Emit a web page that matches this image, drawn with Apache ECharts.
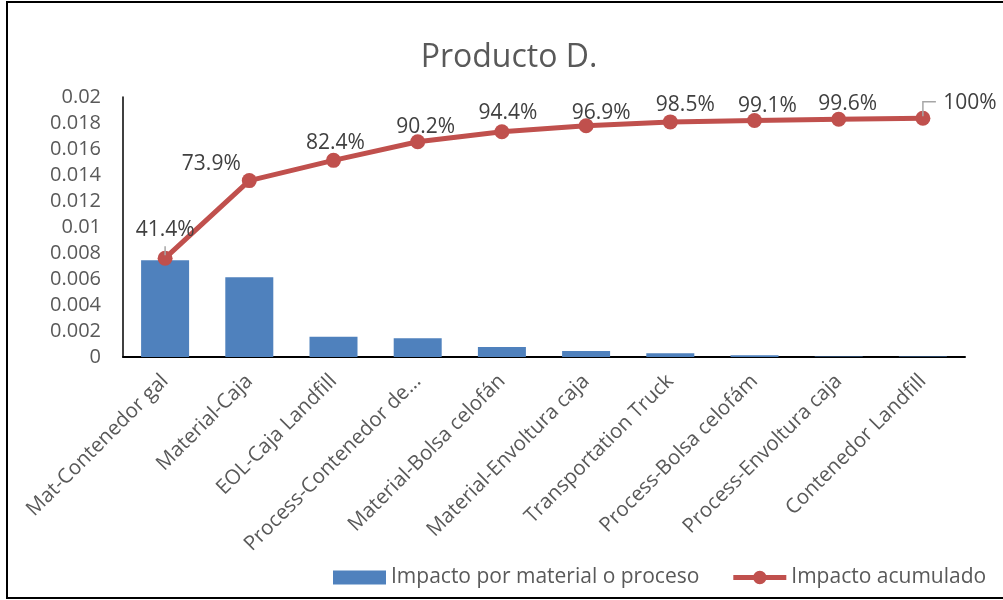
<!DOCTYPE html>
<html>
<head>
<meta charset="utf-8">
<script src="https://cdn.jsdelivr.net/npm/echarts@6/dist/echarts.min.js"></script>
<style>
  html, body { margin: 0; padding: 0; background: #fff; overflow: hidden; }
  #chart { width: 1003px; height: 600px; position: absolute; left: 0; top: 0; }
  #frame {
    position: absolute; left: 6px; top: 1px; width: 1100px; height: 594px;
    border: 2px solid #000; pointer-events: none;
  }
</style>
</head>
<body>
<div id="chart"></div>
<div id="frame"></div>
<script>
// Pareto of impact contributions, Producto D.
const categories = [
  'Mat-Contenedor gal',
  'Material-Caja',
  'EOL-Caja Landfill',
  'Process-Contenedor de...',
  'Material-Bolsa celofán',
  'Material-Envoltura caja',
  'Transportation Truck',
  'Process-Bolsa celofám',
  'Process-Envoltura caja',
  'Contenedor Landfill'
];
const impactValues = [0.00745, 0.00613, 0.00156, 0.00144, 0.00077, 0.00046, 0.00028, 0.00013, 0.00004, 0.00003];
const cumulativePct = [41.4, 73.9, 82.4, 90.2, 94.4, 96.9, 98.5, 99.1, 99.6, 100];
const totalImpact = 0.01836;
const yMin = 0;
const yMax = 0.02;
const yStep = 0.002;
const seriesNames = ['Impacto por material o proceso', 'Impacto acumulado'];
const titleText = 'Producto D.';

// cumulative impact on the same value axis as the bars
const cumulativeValues = cumulativePct.map(p => p / 100 * totalImpact);

// label placement around each point (dx, dy from the point centre)
const labelShift = [[0, -28], [-38, -17], [2, -17], [8, -15], [6, -19], [15, -13], [15, -17], [13, -14], [9, -15], [47, -15]];

const FONT = '"Open Sans", "Noto Sans", sans-serif';
const barColor = '#4F81BD';
const lineColor = '#C0504D';

// legend glyph for the line series: thick stroke with a dot in the middle
const lineLegendIcon = 'path://M0,4.5 L55,4.5 L55,9.5 L0,9.5 Z M20.5,7 A7,7 0 1,1 34.5,7 A7,7 0 1,1 20.5,7 Z';

// centre the title over x = 509
const titleSize = 32;
const measure = document.createElement('canvas').getContext('2d');
measure.font = titleSize + 'px "Open Sans"';
const titleWidth = measure.measureText(titleText).width;

const chart = echarts.init(document.getElementById('chart'), null, { renderer: 'canvas' });

chart.setOption({
  animation: false,
  backgroundColor: '#fff',
  title: {
    text: titleText,
    left: 509 - titleWidth / 2 - 5,
    top: 37,
    textStyle: { fontFamily: FONT, fontSize: titleSize, fontWeight: 'normal', color: '#595959' }
  },
  legend: {
    left: 328,
    top: 562,
    itemWidth: 53,
    itemHeight: 14,
    itemGap: 34,
    textStyle: { fontFamily: FONT, fontSize: 21, color: '#595959' },
    data: [
      { name: seriesNames[0], icon: 'rect' },
      { name: seriesNames[1], icon: lineLegendIcon, itemStyle: { color: lineColor } }
    ]
  },
  grid: { left: 123, right: 38, top: 97, bottom: 243 },
  xAxis: {
    type: 'category',
    data: categories,
    axisLine: { lineStyle: { color: '#000', width: 2 } },
    axisTick: { show: false },
    axisLabel: {
      interval: 0,
      rotate: 45,
      margin: 21,
      fontFamily: FONT,
      fontSize: 20.5,
      color: '#595959'
    }
  },
  yAxis: {
    type: 'value',
    min: yMin,
    max: yMax,
    interval: yStep,
    axisLine: { show: true, lineStyle: { color: '#000', width: 1.5 } },
    axisTick: { show: false },
    splitLine: { show: false },
    axisLabel: { margin: 22, fontFamily: FONT, fontSize: 20, color: '#595959' }
  },
  series: [
    {
      name: seriesNames[0],
      type: 'bar',
      data: impactValues,
      barWidth: 48,
      itemStyle: { color: barColor }
    },
    {
      name: seriesNames[1],
      type: 'line',
      data: cumulativeValues.map((v, i) => ({
        value: v,
        label: { offset: labelShift[i] }
      })),
      symbol: 'circle',
      symbolSize: 15,
      lineStyle: { color: lineColor, width: 5 },
      itemStyle: { color: lineColor },
      label: {
        show: true,
        position: 'inside',
        formatter: p => cumulativePct[p.dataIndex] + '%',
        fontFamily: FONT,
        fontSize: 21,
        color: '#404040'
      },
      z: 3
    }
  ]
});

// leader lines for the first and last data labels
function leaderLines() {
  const p0 = chart.convertToPixel({ seriesIndex: 1 }, [0, cumulativeValues[0]]);
  const last = cumulativeValues.length - 1;
  const pN = chart.convertToPixel({ seriesIndex: 1 }, [last, cumulativeValues[last]]);
  const style = { stroke: '#A6A6A6', lineWidth: 1.5, fill: null };
  chart.setOption({
    graphic: [
      { type: 'polyline', z: 100, shape: { points: [[p0[0], p0[1] - 3], [p0[0], p0[1] - 12]] }, style },
      { type: 'polyline', z: 100, shape: { points: [[pN[0], pN[1] - 2], [pN[0], pN[1] - 16.5], [pN[0] + 13, pN[1] - 16.5]] }, style }
    ]
  });
}
leaderLines();
</script>
</body>
</html>
